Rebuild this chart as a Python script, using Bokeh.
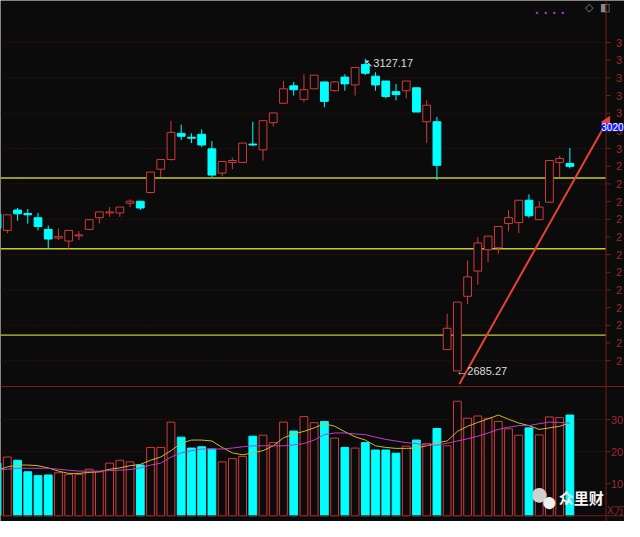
from bokeh.plotting import figure
from bokeh.models import ColumnDataSource, Span, Label, Arrow, NormalHead, Range1d
from bokeh.embed import file_html
from bokeh.resources import INLINE
from bokeh.core.properties import value

# ---------------- data ----------------
idx = list(range(-1, 56))
opens = [2907.7, 2884.3, 2913.1, 2908.1, 2902.2, 2885.7, 2873.4, 2869.2, 2876.5, 2885.7,
         2902.2, 2909.0, 2909.0, 2922.7, 2925.5, 2937.8, 2970.8, 2984.5, 3021.5, 3016.0,
         3020.2, 2999.6, 2965.3, 2980.4, 2980.4, 3006.4, 2998.2, 3036.6, 3064.1, 3088.8,
         3069.6, 3084.6, 3094.3, 3081.9, 3101.1, 3090.1, 3118.9, 3102.5, 3095.6, 3080.5,
         3081.9, 3086.0, 3038.0, 3038.0, 2715.6, 2685.4, 2791.0, 2826.7, 2856.9, 2859.6,
         2893.9, 2895.3, 2926.9, 2899.4, 2924.1, 2980.4, 2979.0]
closes = [2887.1, 2906.3, 2907.7, 2906.3, 2889.8, 2872.0, 2875.4, 2884.3, 2877.9, 2899.4,
          2910.4, 2910.4, 2917.3, 2925.5, 2915.9, 2966.7, 2984.5, 3022.9, 3017.4, 3014.7,
          3005.1, 2962.5, 2981.7, 2983.1, 3007.8, 3005.1, 3039.4, 3050.4, 3084.6, 3083.3,
          3083.3, 3103.9, 3066.8, 3094.3, 3091.5, 3114.8, 3106.6, 3090.1, 3073.7, 3076.4,
          3095.6, 3051.7, 3061.3, 2976.3, 2745.8, 2782.8, 2818.5, 2866.5, 2876.1, 2889.8,
          2902.2, 2926.9, 2904.9, 2917.3, 2983.1, 2985.9, 2974.9]
highs = [2911.8, 2907.0, 2915.9, 2914.5, 2909.0, 2891.2, 2887.1, 2884.3, 2883.0, 2899.4,
         2910.4, 2917.3, 2917.3, 2928.2, 2925.5, 2966.7, 2984.5, 3039.4, 3033.9, 3021.5,
         3027.0, 3010.6, 2981.7, 2987.2, 3007.8, 3038.0, 3039.4, 3050.4, 3095.6, 3094.3,
         3105.2, 3103.9, 3094.3, 3095.6, 3105.2, 3114.8, 3127.17, 3108.0, 3095.6, 3091.5,
         3095.6, 3086.0, 3068.2, 3044.9, 2766.3, 2782.8, 2841.8, 2874.7, 2876.1, 2889.8,
         2913.1, 2926.9, 2935.1, 2925.5, 2983.1, 2990.0, 3000.9]
lows = [2883.0, 2880.2, 2898.1, 2893.9, 2884.3, 2858.3, 2870.6, 2858.3, 2870.6, 2884.3,
        2893.9, 2903.5, 2903.5, 2917.3, 2913.1, 2936.5, 2959.8, 2983.1, 3011.9, 3007.8,
        3002.3, 2959.8, 2961.2, 2970.8, 2980.4, 3003.7, 2983.1, 3031.1, 3064.1, 3075.0,
        3065.4, 3084.6, 3058.6, 3080.5, 3081.9, 3075.0, 3103.9, 3081.9, 3070.9, 3068.2,
        3070.9, 3051.7, 3007.8, 2955.7, 2715.6, 2685.27, 2780.1, 2807.5, 2839.1, 2851.4,
        2883.0, 2880.2, 2902.2, 2899.4, 2924.1, 2959.8, 2972.1]
volumes = [16.4, 18.3, 17.3, 13.7, 12.5, 12.7, 13.4, 12.9, 12.9, 14.5,
           13.7, 16.4, 17.3, 16.8, 15.8, 21.3, 21.3, 29.2, 24.5, 21.1,
           21.5, 20.8, 16.8, 17.8, 18.5, 24.8, 25.1, 22.8, 29.2, 26.4,
           30.9, 29.0, 29.4, 24.2, 21.3, 21.1, 22.8, 20.5, 20.5, 19.5,
           21.7, 23.6, 22.5, 27.2, 21.8, 35.7, 30.4, 31.1, 30.4, 29.4,
           27.1, 25.1, 27.4, 25.2, 30.8, 30.6, 31.4]
vol_ma5 = [14.2, 15.2, 15.8, 15.8, 15.6, 14.9, 13.9, 13.2, 13.2, 13.5,
           13.7, 14.5, 14.9, 15.6, 16.0, 17.3, 18.3, 20.3, 22.6, 23.6,
           23.6, 23.3, 21.3, 19.6, 19.0, 19.6, 20.3, 21.8, 24.3, 25.5,
           26.3, 27.4, 28.7, 27.9, 26.2, 24.6, 23.6, 21.8, 21.3, 21.0,
           21.0, 21.1, 21.8, 22.8, 23.3, 26.3, 27.9, 29.1, 30.2, 31.4,
           30.1, 28.9, 28.1, 26.9, 27.4, 27.9, 28.9]
vol_ma10 = [14.1, 14.5, 14.8, 14.8, 14.8, 14.8, 14.5, 14.2, 13.9, 13.9,
            13.9, 14.1, 14.2, 14.4, 14.9, 15.8, 16.4, 18.3, 19.6, 20.3,
            20.8, 20.8, 20.8, 21.1, 21.5, 21.8, 21.8, 21.8, 21.8, 22.1,
            22.5, 23.6, 25.3, 25.8, 25.8, 25.5, 25.3, 24.5, 23.8, 23.3,
            22.8, 22.5, 22.0, 22.0, 22.6, 23.3, 24.0, 24.8, 25.8, 26.9,
            27.6, 28.1, 28.1, 28.7, 29.2, 29.1, 28.9]

support_levels = [2958.4, 2858.3, 2736.1]
high_point = (35, 3127.17)
low_point = (44, 2685.27)
trend_start = (44.2, 2667.0)
trend_end = (58.9, 3045.5)
tag_price = 3030.0
tag_text = "3020"

price_ticks = [2700, 2725, 2750, 2775, 2800, 2825, 2850, 2875, 2900, 2925,
               2950, 2975, 3000, 3025, 3050, 3075, 3100, 3125, 3150]
price_tick_labels = ["2", "2", "2", "2", "2", "2", "2", "2", "2", "2",
                     "2", "2", "3", "3", "3", "3", "3", "3", "3"]
price_grid = [2700, 2750, 2800, 2850, 2900, 2950, 3000, 3050, 3100, 3150]
vol_ticks = [10, 20, 30]
vol_tick_labels = ["10", "20", "30"]
vol_unit_label = "X万"
vol_grid = [20, 30]

# ---------------- styles / layout ----------------
BG = "#0b0b0b"
UP = "#d23a3a"
DOWN = "#00ffff"
AXIS = "#7a1c1c"
GRID = "#3a1212"
LBL = "#9c2b2b"
YEL = "#c8c832"

W, H = 624, 521
X_LO, X_HI = -0.667, 60.34          # whole canvas width
AXIS_X = 58.53                      # right price axis line
PRICE_RANGE = (2472.4, 3209.5)      # price panel occupies the upper 386 px
VOL_RANGE = (-1.8, 160.67)          # volume panel occupies the lower 135 px
PANEL_SPLIT = 2663.4                # price value at the panel separator
TICK_LEN = 0.45
BODY_W = 0.76
FONT = "Liberation Sans"

inc_i = [k for k in range(len(idx)) if closes[k] >= opens[k]]
dec_i = [k for k in range(len(idx)) if closes[k] < opens[k]]

def sub(ids):
    return ColumnDataSource(dict(
        x=[idx[k] for k in ids],
        h=[highs[k] for k in ids],
        l=[lows[k] for k in ids],
        top=[max(opens[k], closes[k]) for k in ids],
        bot=[min(opens[k], closes[k]) for k in ids],
        vol=[volumes[k] for k in ids],
    ))

src_inc = sub(inc_i)
src_dec = sub(dec_i)

p = figure(frame_width=W, frame_height=H,
           x_range=Range1d(X_LO, X_HI), y_range=Range1d(*PRICE_RANGE),
           x_axis_location=None, y_axis_location=None,
           toolbar_location=None, output_backend="svg",
           background_fill_color=BG, border_fill_color=BG, outline_line_color=None,
           min_border_left=0, min_border_top=0, min_border_bottom=0, min_border_right=0)
p.extra_y_ranges = {"vol": Range1d(*VOL_RANGE)}
p.xgrid.visible = False
p.ygrid.visible = False

def hlines(levels, color, width, dash="solid", rng="default"):
    p.segment(x0=[X_LO] * len(levels), x1=[AXIS_X] * len(levels), y0=levels, y1=levels,
              line_color=color, line_width=width, line_dash=dash, y_range_name=rng)

def ticks_and_labels(ticks, labels, offset, rng="default"):
    p.segment(x0=[AXIS_X] * len(ticks), x1=[AXIS_X + TICK_LEN] * len(ticks),
              y0=ticks, y1=ticks, line_color=AXIS, line_width=1, y_range_name=rng)
    p.text(x=[AXIS_X] * len(ticks), y=ticks, text=labels, x_offset=offset,
           text_baseline="middle", text_align="left", text_color=LBL,
           text_font=value(FONT), text_font_size="11px", y_range_name=rng)

# frame lines
p.add_layout(Span(location=AXIS_X, dimension="height", line_color=AXIS, line_width=1))
p.add_layout(Span(location=PANEL_SPLIT, dimension="width", line_color=AXIS, line_width=1))
p.add_layout(Span(location=0, dimension="width", line_color=AXIS, line_width=1,
                  y_range_name="vol"))

# ---------------- price panel ----------------
hlines(price_grid, GRID, 1, "2 2")
hlines(support_levels, YEL, 1.3)
ticks_and_labels(price_ticks, price_tick_labels, 10)

p.segment(x0="x", y0="h", x1="x", y1="l", source=src_inc, line_color=UP, line_width=1)
p.segment(x0="x", y0="h", x1="x", y1="l", source=src_dec, line_color=DOWN, line_width=1)
p.vbar(x="x", width=BODY_W, top="top", bottom="bot", source=src_inc,
       fill_color=BG, line_color=UP, line_width=1)
p.vbar(x="x", width=BODY_W, top="top", bottom="bot", source=src_dec,
       fill_color=DOWN, line_color=DOWN, line_width=1)

p.add_layout(Arrow(end=NormalHead(size=9, fill_color="#e8403a", line_color="#e8403a"),
                   x_start=trend_start[0], y_start=trend_start[1],
                   x_end=trend_end[0], y_end=trend_end[1],
                   line_color="#e8403a", line_width=2))

p.add_layout(Label(x=high_point[0], y=high_point[1], text="↖" + f"{high_point[1]:.2f}",
                   x_offset=-1, y_offset=-4, text_baseline="middle", text_align="left",
                   text_color="#dcdcdc", text_font=FONT, text_font_size="11px"))
p.add_layout(Label(x=low_point[0], y=low_point[1], text="←" + f"{low_point[1]:.2f}",
                   x_offset=-1, y_offset=0, text_baseline="middle", text_align="left",
                   text_color="#dcdcdc", text_font=FONT, text_font_size="11px"))
p.add_layout(Label(x=X_HI, y=tag_price, text=tag_text, x_offset=-1,
                   text_baseline="middle", text_align="right",
                   text_color="#ffffff", background_fill_color="#1a1aff",
                   text_font=FONT, text_font_size="10px"))
# toolbar-like glyphs at the top right
p.add_layout(Label(x=51.6, y=3192, text="·  ·  ·  ·", text_baseline="middle",
                   text_color="#a43cc8", text_font_size="14px", text_font_style="bold"))
p.add_layout(Label(x=56.5, y=3200, text="◇", text_baseline="middle",
                   text_color="#8a8a8a", text_font_size="11px"))
p.add_layout(Label(x=57.9, y=3200, text="◧", text_baseline="middle",
                   text_color="#8a8a8a", text_font_size="11px"))

# ---------------- volume panel ----------------
hlines(vol_grid, GRID, 1, "2 2", rng="vol")
ticks_and_labels(vol_ticks, vol_tick_labels, 5, rng="vol")
p.add_layout(Label(x=AXIS_X, y=1.6, y_range_name="vol", text=vol_unit_label, x_offset=1,
                   text_baseline="middle", text_align="left", text_color=LBL,
                   text_font=FONT, text_font_size="10px"))

p.vbar(x="x", width=BODY_W, top="vol", bottom=0, source=src_inc, y_range_name="vol",
       fill_color=BG, line_color=UP, line_width=1)
p.vbar(x="x", width=BODY_W, top="vol", bottom=0, source=src_dec, y_range_name="vol",
       fill_color=DOWN, line_color=DOWN, line_width=1)
p.line(idx, vol_ma5, line_color="#cdb92a", line_width=1, y_range_name="vol")
p.line(idx, vol_ma10, line_color="#c43ac8", line_width=1, y_range_name="vol")

# watermark (WeChat-like bubbles + name)
p.add_layout(Label(x=52.0, y=7.2, y_range_name="vol", text="●", text_baseline="middle",
                   text_align="center", text_color="#cfcfcf", text_font_size="34px"))
p.add_layout(Label(x=53.0, y=4.4, y_range_name="vol", text="●", text_baseline="middle",
                   text_align="center", text_color="#eeeeee", text_font_size="28px"))
p.add_layout(Label(x=53.9, y=5.8, y_range_name="vol", text="众里财", text_baseline="middle",
                   text_align="left", text_color="#f4f4f4", text_font="Noto Sans CJK SC",
                   text_font_size="15px", text_font_style="bold"))

open("out.html", "w").write(file_html(p, INLINE))
